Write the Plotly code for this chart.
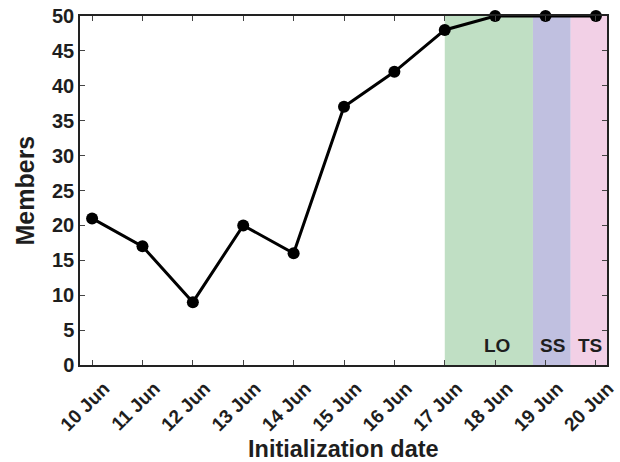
import plotly.graph_objects as go

# Initialization dates (day of June) and number of members
days = [10, 11, 12, 13, 14, 15, 16, 17, 18, 19, 20]
tick_labels = [f"{d} Jun" for d in days]
members = [21, 17, 9, 20, 16, 37, 42, 48, 50, 50, 50]

# Shaded stages: label, start day, end day, fill colour
stage_names = ["LO", "SS", "TS"]
stage_start = [17.0, 18.75, 19.5]
stage_end = [18.75, 19.5, 20.3]
stage_colors = ["rgb(192,223,196)", "rgb(192,192,224)", "rgb(242,208,230)"]
stage_label_x = [18.04, 19.14, 19.88]

font_family = "Liberation Sans, Arial, sans-serif"
text_color = "#1e1e1e"

fig = go.Figure()

for name, x0, x1, col in zip(stage_names, stage_start, stage_end, stage_colors):
    fig.add_shape(type="rect", xref="x", yref="y", x0=x0, x1=x1, y0=0, y1=50,
                  fillcolor=col, line=dict(width=0), layer="below")

for name, lx in zip(stage_names, stage_label_x):
    fig.add_annotation(x=lx, y=1.0, xref="x", yref="y", text=f"<b>{name}</b>",
                       showarrow=False, yanchor="bottom",
                       font=dict(family=font_family, size=19, color=text_color))

fig.add_trace(go.Scatter(
    x=days, y=members, mode="lines+markers",
    line=dict(color="black", width=3),
    marker=dict(color="black", size=12),
    cliponaxis=False, showlegend=False,
))

# axis titles
fig.add_annotation(x=0.5, y=0, xref="paper", yref="paper", yshift=-84,
                   text="<b>Initialization date</b>", showarrow=False,
                   xanchor="center", yanchor="middle",
                   font=dict(family=font_family, size=23.5, color=text_color))
fig.add_annotation(x=0, y=0.5, xref="paper", yref="paper", xshift=-56,
                   text="<b>Members</b>", showarrow=False, textangle=-90,
                   xanchor="center", yanchor="middle",
                   font=dict(family=font_family, size=25, color=text_color))

fig.update_layout(
    width=620, height=462,
    margin=dict(l=80, r=13, t=16, b=97),
    paper_bgcolor="white", plot_bgcolor="white",
    font=dict(family=font_family, color=text_color),
)

fig.update_xaxes(
    range=[9.76, 20.22], tickmode="array", tickvals=days, ticktext=tick_labels,
    tickangle=-45, ticks="inside", ticklen=5, tickwidth=1, tickcolor="#444444",
    showline=True, linecolor="#222222", linewidth=1.5, mirror="ticks",
    showgrid=False, zeroline=False, automargin=False,
    ticklabelshift=12, ticklabelstandoff=3,
    tickfont=dict(family=font_family, size=19, color=text_color, weight="bold"),
)

fig.update_yaxes(
    range=[0, 50], tickmode="array", tickvals=list(range(0, 51, 5)),
    ticks="inside", ticklen=5, tickwidth=1, tickcolor="#444444",
    showline=True, linecolor="#222222", linewidth=1.5, mirror="ticks",
    showgrid=False, zeroline=False, automargin=False,
    tickfont=dict(family=font_family, size=20, color=text_color, weight="bold"),
)

fig.write_html("out.html")
